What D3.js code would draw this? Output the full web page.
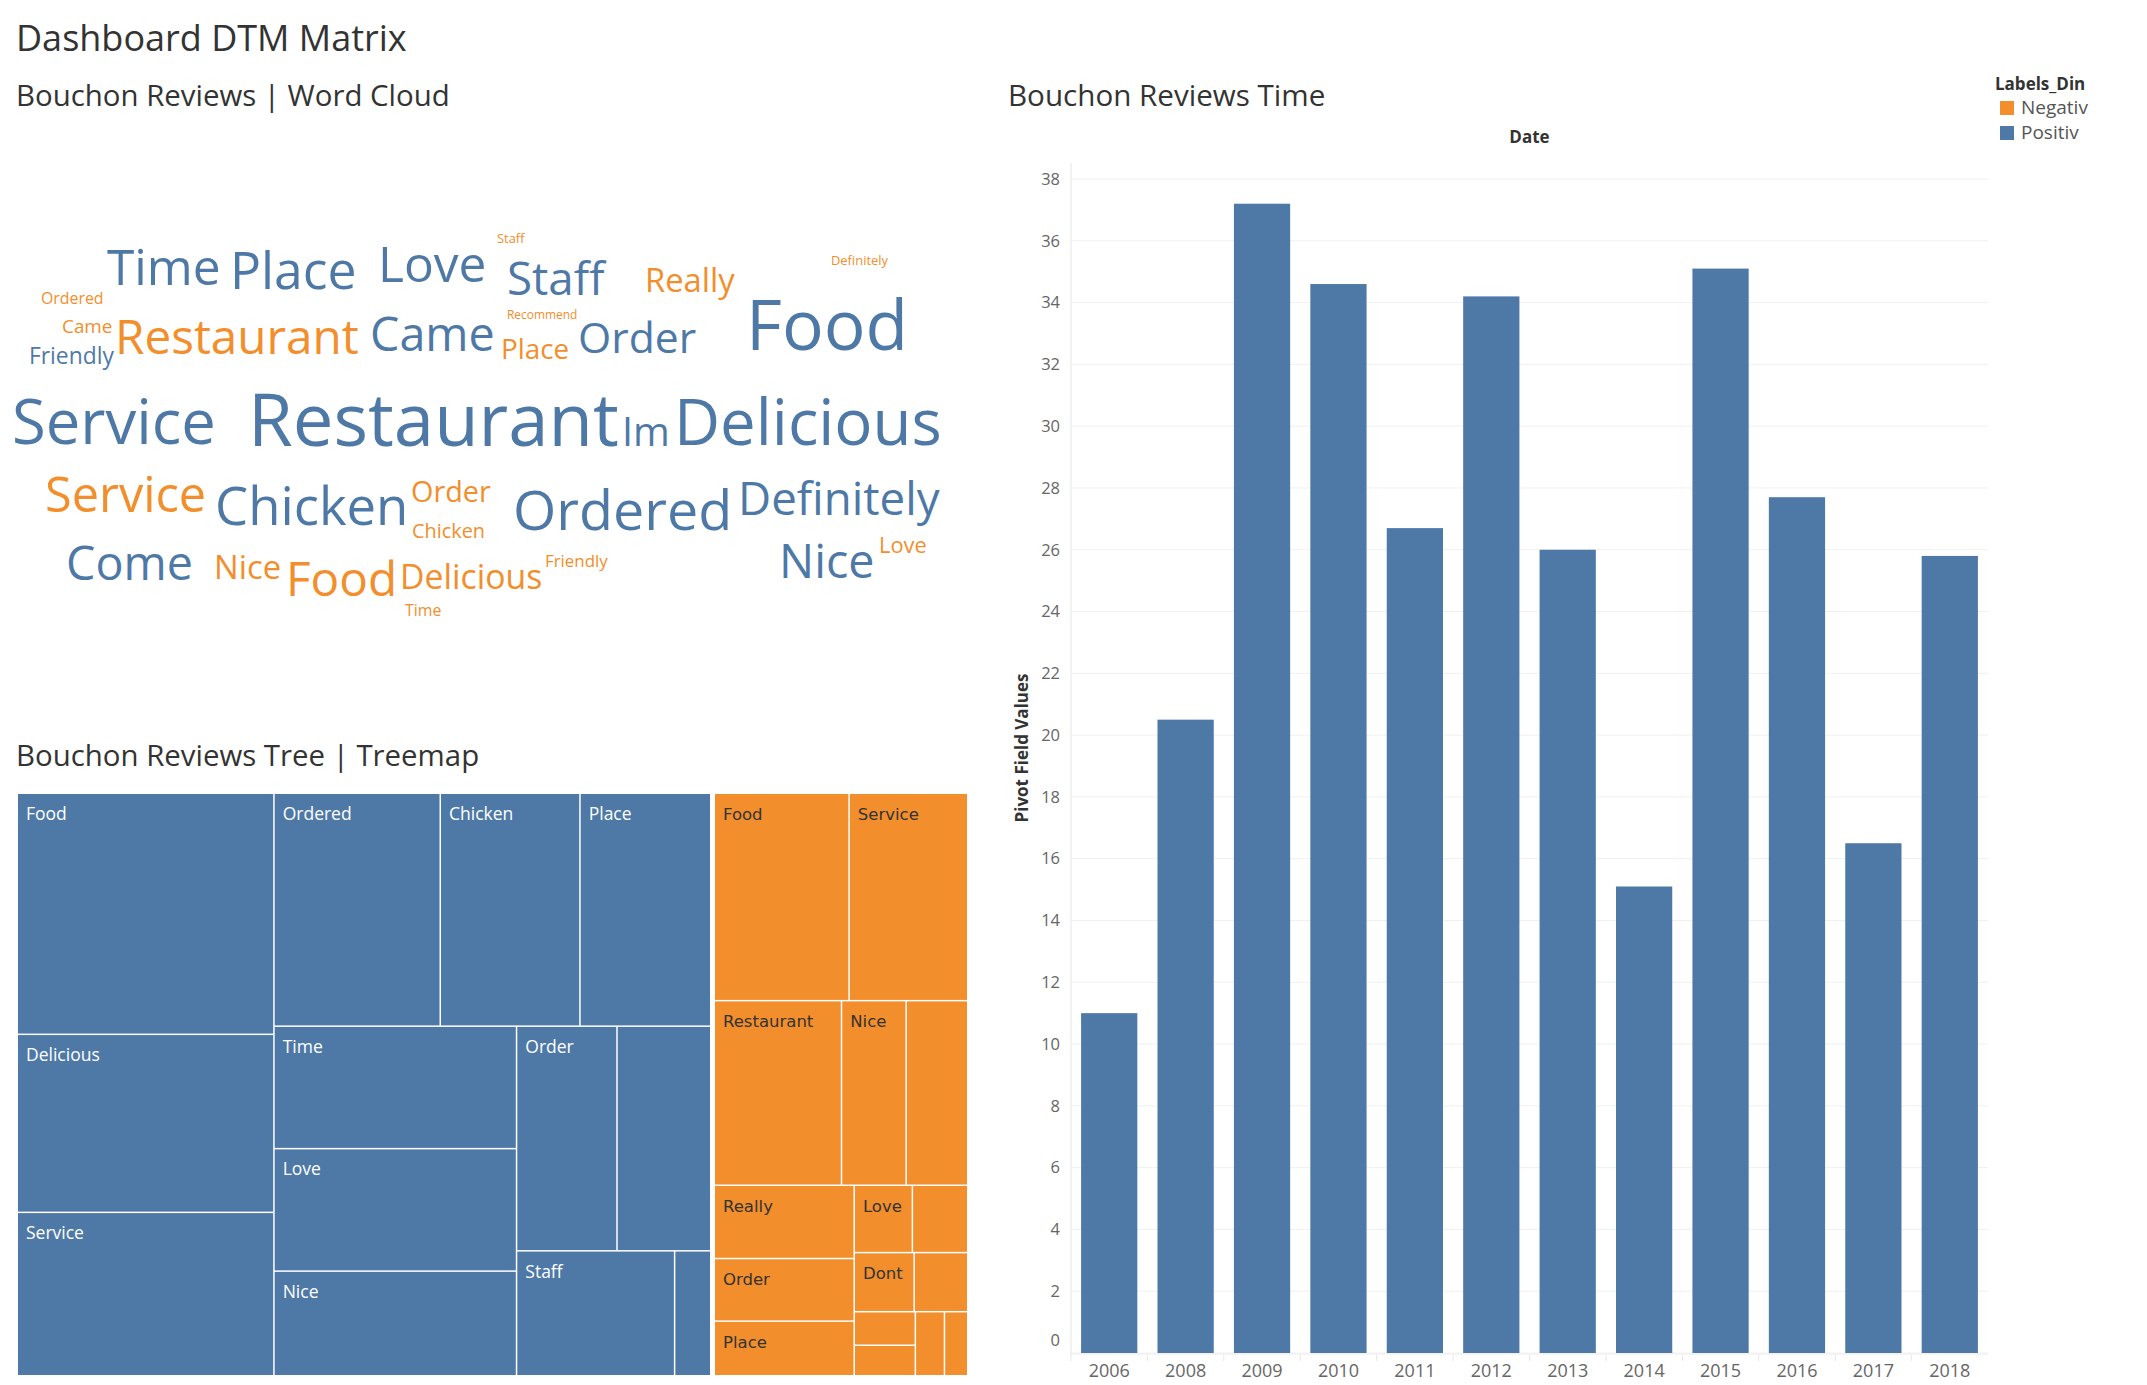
<!DOCTYPE html>
<html>
<head>
<meta charset="utf-8">
<script src="https://cdn.jsdelivr.net/npm/d3@7"></script>
<style>
html,body{margin:0;padding:0;background:#fff;}
svg{display:block;}
text{font-family:"Open Sans",sans-serif;}
</style>
</head>
<body>
<svg id="chart" width="2147" height="1385"></svg>
<script>
// ---------------- DATA ----------------
// Bar chart
const years = ["2006","2008","2009","2010","2011","2012","2013","2014","2015","2016","2017","2018"];
const pivotValues = [11.0, 20.5, 37.2, 34.6, 26.7, 34.2, 26.0, 15.1, 35.1, 27.7, 16.5, 25.8];
const yTickValues = [0,2,4,6,8,10,12,14,16,18,20,22,24,26,28,30,32,34,36,38];

// Sentiment legend
const sentiments = ["Negativ","Positiv"];
const sentimentColors = ["#f28e2b","#4e79a7"];

// Treemap words (Positiv / Negativ)
const positivWords  = ["Food","Delicious","Service","Ordered","Chicken","Place","Time","Love","Nice","Order","Restaurant","Staff","Came"];
const positivCounts = [329, 243, 223, 206, 173, 162, 158, 158, 135, 120, 112, 105, 24];
const negativWords  = ["Food","Service","Restaurant","Nice","Delicious","Really","Order","Place","Love","Chicken","Dont","Ordered","Definitely","Recommend","Friendly","Time"];
const negativCounts = [150, 132, 126, 64, 61, 55, 47, 41, 21, 20, 19, 17, 11, 10, 10, 8];

// Word cloud words
const cloudWords     = ["Staff","Definitely","Time","Place","Love","Staff","Really","Ordered","Came","Friendly","Restaurant","Came","Recommend","Place","Order","Food","Service","Restaurant","Im","Delicious","Service","Chicken","Order","Chicken","Ordered","Definitely","Come","Nice","Food","Delicious","Friendly","Time","Nice","Love"];
const cloudSentiment = ["Negativ","Negativ","Positiv","Positiv","Positiv","Positiv","Negativ","Negativ","Negativ","Positiv","Negativ","Positiv","Negativ","Negativ","Positiv","Positiv","Positiv","Positiv","Positiv","Positiv","Negativ","Positiv","Negativ","Negativ","Positiv","Positiv","Positiv","Negativ","Negativ","Negativ","Negativ","Negativ","Positiv","Negativ"];
const cloudCounts    = [13, 13, 50, 52, 50, 46, 33, 16, 19, 23, 48, 47, 12, 28, 43, 70, 62, 73, 40, 64, 49, 53, 29, 20, 56, 46, 47, 33, 48, 34, 17, 16, 47, 22];

// Word cloud placement (layout grid of the cloud panel, in panel units)
const cloudLayoutX = [497, 831, 107, 230, 378, 507, 645, 41, 62, 29, 115, 370, 507, 501, 578, 746, 12, 248, 622, 674, 45, 215, 411, 412, 513, 738, 66, 214, 286, 400, 545, 405, 779, 879];
const cloudLayoutY = [43, 65, 85, 89, 82, 95, 92, 104, 133, 164, 154, 151, 119, 159, 153, 150, 244, 246, 246, 245, 312, 325, 302, 338, 330, 315, 380, 379, 396, 389, 367, 416, 378, 353];

// ---------------- DRAW ----------------
const svg = d3.select("#chart");
const colorOf = d3.scaleOrdinal().domain(sentiments).range(sentimentColors);

// Titles
const titleColor = "#333";
svg.append("text").attr("x",16).attr("y",51).attr("font-size",36).attr("fill",titleColor).text("Dashboard DTM Matrix");
svg.append("text").attr("x",16).attr("y",106).attr("font-size",29.4).attr("fill",titleColor).text("Bouchon Reviews | Word Cloud");
svg.append("text").attr("x",1008).attr("y",106).attr("font-size",29.6).attr("fill",titleColor).text("Bouchon Reviews Time");
svg.append("text").attr("x",16).attr("y",766).attr("font-size",29.4).attr("fill",titleColor).text("Bouchon Reviews Tree | Treemap");

// ---- Word cloud ----
const cloudPanelX = d3.scaleLinear().domain([0, 960]).range([0, 960]);
const cloudPanelY = d3.scaleLinear().domain([0, 450]).range([200, 650]);
const fontScale = d3.scaleLinear().domain([0, d3.max(cloudCounts)]).range([0, 72.5]);
const cloudG = svg.append("g").attr("class","cloud");
cloudG.selectAll("text").data(cloudWords.map((w,i)=>({w, s:cloudSentiment[i], c:cloudCounts[i], i})))
  .join("text")
  .attr("x", d => cloudPanelX(cloudLayoutX[d.i]))
  .attr("y", d => cloudPanelY(cloudLayoutY[d.i]))
  .attr("font-size", d => fontScale(d.c))
  .attr("fill", d => colorOf(d.s))
  .text(d => d.w);

// ---- Treemap ----
const tmX0 = 18, tmY0 = 794, tmW = 949, tmH = 581;
const treeData = {name:"root", children:[
  {name:"Positiv", children: positivWords.map((w,i)=>({name:w, value:positivCounts[i]}))},
  {name:"Negativ", children: negativWords.map((w,i)=>({name:w, value:negativCounts[i]}))}
]};
const root = d3.hierarchy(treeData).sum(d => d.value || 0).sort((a,b) => b.value - a.value);
d3.treemap().size([tmW, tmH]).tile(d3.treemapSquarify)
  .paddingInner(n => n.depth === 0 ? 5 : 1.5)(root);
const tmG = svg.append("g").attr("transform", `translate(${tmX0},${tmY0})`);
const cells = tmG.selectAll("g.cell").data(root.leaves()).join("g").attr("class","cell");
cells.append("rect")
  .attr("x", d => d.x0).attr("y", d => d.y0)
  .attr("width", d => d.x1 - d.x0).attr("height", d => d.y1 - d.y0)
  .attr("fill", d => colorOf(d.parent.data.name));
cells.append("text")
  .attr("x", d => d.x0 + 8).attr("y", d => d.y0 + 26)
  .attr("font-size", d => d.parent.data.name === "Positiv" ? 17.5 : 16.5)
  .style("font-family", d => d.parent.data.name === "Positiv" ? '"Open Sans",sans-serif' : '"DejaVu Sans",sans-serif')
  .attr("fill", d => d.parent.data.name === "Positiv" ? "#ffffff" : "#333333")
  .text(d => d.data.name)
  .each(function(d){
    const tw = this.getComputedTextLength();
    if (tw + 16 > (d.x1 - d.x0) || (d.y1 - d.y0) < 30) d3.select(this).remove();
  });

// ---- Bar chart ----
const plotL = 1071, plotR = 1988;
const x = d3.scaleBand().domain(years).range([plotL, plotR]).paddingInner(0.264).paddingOuter(0.132);
const y = d3.scaleLinear().domain([0, 38]).range([1353, 179]);
const bc = svg.append("g").attr("class","bars");

// gridlines
bc.selectAll("line.grid").data(yTickValues).join("line").attr("class","grid")
  .attr("x1", plotL).attr("x2", plotR)
  .attr("y1", d => y(d)).attr("y2", d => y(d))
  .attr("stroke", "#f0f0f0").attr("stroke-width", 1);

// axis lines
bc.append("line").attr("x1", plotL).attr("x2", plotL).attr("y1", 163).attr("y2", 1361).attr("stroke","#e6e6e6");
bc.append("line").attr("x1", plotL).attr("x2", plotR).attr("y1", y(0)+1).attr("y2", y(0)+1).attr("stroke","#ececec");
// band separators below baseline
bc.selectAll("line.sep").data(years.slice(1)).join("line").attr("class","sep")
  .attr("x1", d => x(d) - x.step()*x.paddingInner()/2).attr("x2", d => x(d) - x.step()*x.paddingInner()/2)
  .attr("y1", y(0)+2).attr("y2", y(0)+8).attr("stroke","#e6e6e6");

// bars
bc.selectAll("rect.bar").data(years.map((yr,i)=>({yr, v:pivotValues[i]}))).join("rect").attr("class","bar")
  .attr("x", d => x(d.yr)).attr("width", x.bandwidth())
  .attr("y", d => y(d.v)).attr("height", d => y(0) - y(d.v))
  .attr("fill", colorOf("Positiv"));

// y axis
const yAxisG = bc.append("g").attr("transform", `translate(${plotL},0)`)
  .call(d3.axisLeft(y).tickValues(yTickValues).tickSize(0).tickPadding(11));
yAxisG.select(".domain").remove();
yAxisG.selectAll("text").attr("fill","#666").attr("font-size",16.5).style("font-family",'"Open Sans",sans-serif');
yAxisG.selectAll(".tick").filter(d => d === 0).select("text").attr("dy","-0.45em");

// x axis
const xAxisG = bc.append("g").attr("transform", `translate(0,${y(0)})`)
  .call(d3.axisBottom(x).tickSize(0).tickPadding(11));
xAxisG.select(".domain").remove();
xAxisG.selectAll("text").attr("fill","#666").attr("font-size",18).style("font-family",'"Open Sans",sans-serif');

// axis titles
svg.append("text").attr("x", (plotL+plotR)/2).attr("y", 143).attr("text-anchor","middle")
  .attr("font-size",17).attr("font-weight","bold").attr("fill","#333").text("Date");
svg.append("text").attr("transform","translate(1022,748) rotate(-90)").attr("text-anchor","middle").attr("dy","0.35em")
  .attr("font-size",17).attr("font-weight","bold").attr("fill","#333").text("Pivot Field Values");

// legend
svg.append("text").attr("x",1995).attr("y",90).attr("font-size",17).attr("font-weight","bold").attr("fill","#333").text("Labels_Din");
const lg = svg.append("g").selectAll("g").data(sentiments).join("g")
  .attr("transform", (d,i) => `translate(2000,${101 + i*25})`);
lg.append("rect").attr("width",14).attr("height",14).attr("fill", d => colorOf(d));
lg.append("text").attr("x",21).attr("y",13).attr("font-size",19).attr("fill","#555").text(d => d);
</script>
</body>
</html>
